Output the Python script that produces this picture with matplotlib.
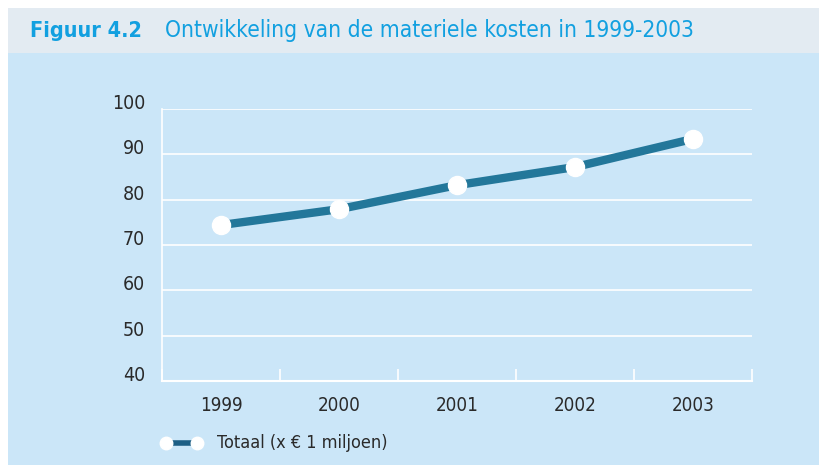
import matplotlib
matplotlib.use('Agg')
from matplotlib import pyplot as plt
from matplotlib.patches import Rectangle
from matplotlib.lines import Line2D

years = ['1999', '2000', '2001', '2002', '2003']
totaal = [74.4, 77.9, 83.2, 87.2, 93.4]
yticks = [40, 50, 60, 70, 80, 90, 100]

title_num = 'Figuur 4.2'
title_text = 'Ontwikkeling van de materiele kosten in 1999-2003'
legend_label = 'Totaal (x \u20ac 1 miljoen)'

BODY = '#cbe6f8'
BAND = '#e3ebf2'
BLUE = '#12a0e0'
LINE = '#23779a'
TEXT = '#2a2a2a'

plt.rcParams['font.family'] = ['DejaVu Sans']
plt.rcParams['font.stretch'] = 'condensed'

W, H = 820, 465
fig = plt.figure(figsize=(W / 100, H / 100), dpi=100, facecolor='white')

# background panels
fig.patches.append(Rectangle((8 / W, 0), 1 - 8 / W, 1 - 53 / H, transform=fig.transFigure,
                             facecolor=BODY, edgecolor='none', zorder=-2))
fig.patches.append(Rectangle((8 / W, 1 - 53 / H), 1 - 8 / W, 45 / H, transform=fig.transFigure,
                             facecolor=BAND, edgecolor='none', zorder=-2))

fig.text(30 / W, 1 - 31 / H, title_num, color=BLUE, fontsize=15.5, fontweight='bold',
         va='center', fontstretch='condensed')
fig.text(165 / W, 1 - 31 / H, title_text, color=BLUE, fontsize=16.3, va='center',
         fontstretch='condensed')

ax = fig.add_axes([162 / W, 1 - 381 / H, 590 / W, 272 / H])
ax.set_zorder(2)
ax.set_facecolor(BODY)
x = list(range(len(years)))
ax.plot(x, totaal, color=LINE, linewidth=6, solid_capstyle='butt', zorder=3)
ax.plot(x, totaal, linestyle='none', marker='o', markersize=13,
        markerfacecolor='white', markeredgecolor='white', zorder=4)

ax.set_xlim(-0.5, len(years) - 0.5)
ax.set_ylim(40, 100)
ax.set_yticks(yticks)
ax.set_yticklabels([str(v) for v in yticks])
ax.set_xticks(x)
ax.set_xticklabels(years)
ax.set_xticks([i - 0.5 for i in range(len(years) + 1)], minor=True)
ax.tick_params(axis='x', which='major', length=0, pad=11, labelsize=13.5, labelcolor=TEXT)
ax.tick_params(axis='x', which='minor', direction='in', length=9, width=1.2, color='white')
ax.tick_params(axis='y', length=0, pad=12, labelsize=14, labelcolor=TEXT)
for lab in ax.get_yticklabels():
    lab.set_verticalalignment('baseline')
    lab.set_fontstretch('condensed')
for lab in ax.get_xticklabels():
    lab.set_fontstretch('condensed')

ax.grid(axis='y', color='white', linewidth=1.2)
ax.set_axisbelow(True)
for side in ['top', 'right']:
    ax.spines[side].set_visible(False)
ax.spines['left'].set_color('white')
ax.spines['bottom'].set_color('white')
ax.spines['left'].set_linewidth(1.2)
ax.spines['bottom'].set_linewidth(1.5)

# legend
ly = 1 - 443 / H
fig.add_artist(Line2D([166 / W, 197 / W], [ly, ly], color='#1d5f85', linewidth=4,
                      transform=fig.transFigure))
fig.add_artist(Line2D([166 / W, 197 / W], [ly, ly], linestyle='none', marker='o', markersize=9,
                      markerfacecolor='white', markeredgecolor='white', transform=fig.transFigure))
fig.text(217 / W, ly, legend_label, color=TEXT, fontsize=13, va='center', fontstretch='condensed')

fig.savefig('out.png', dpi=100, facecolor='white')
